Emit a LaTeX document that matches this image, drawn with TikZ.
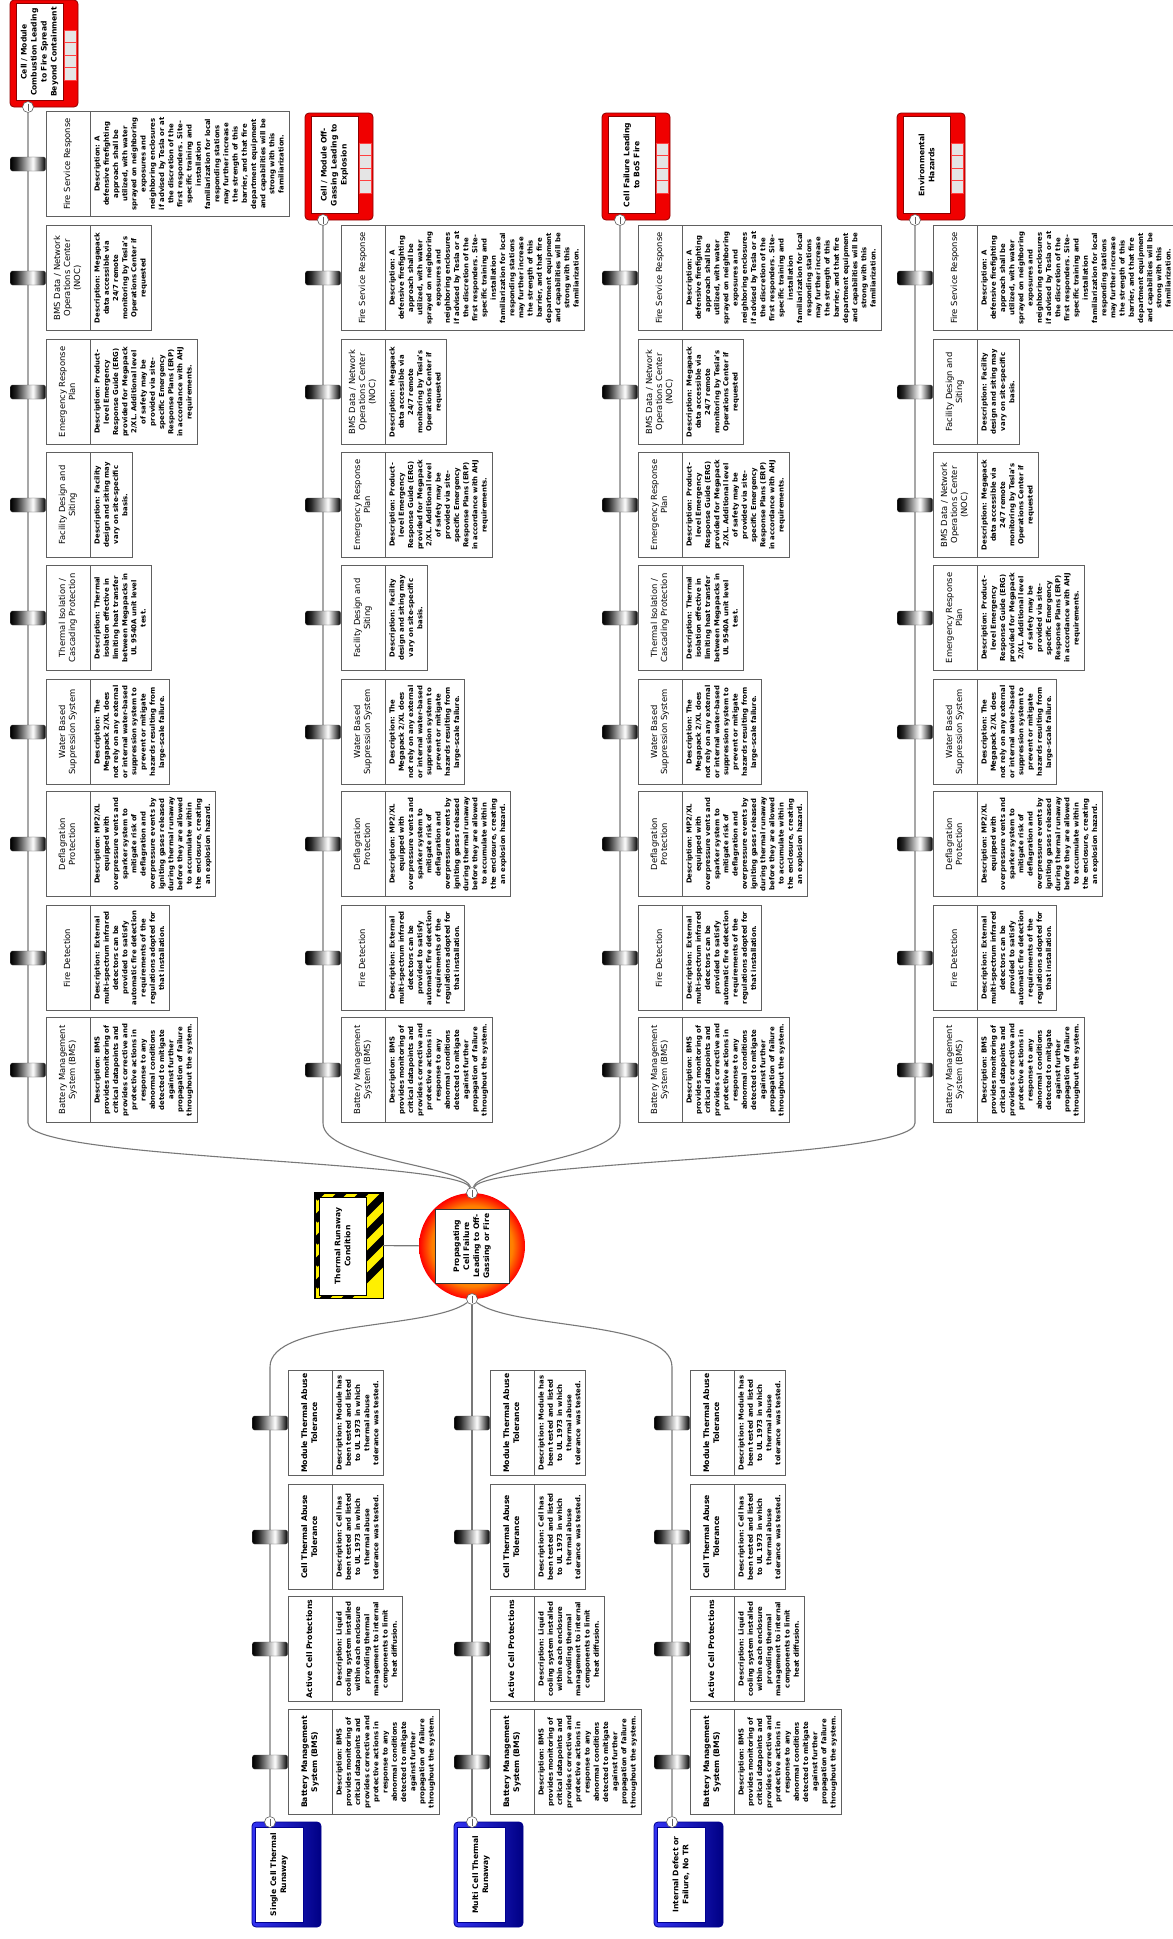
\documentclass[tikz,border=0pt]{standalone}
\usepackage{fontspec}
\setmainfont{DejaVu Sans}
\usetikzlibrary{backgrounds, calc}
\definecolor{spinegray}{RGB}{120,120,120}
\definecolor{boxgray}{RGB}{96,96,96}
\definecolor{eventred}{RGB}{240,0,0}
\definecolor{threatblue}{RGB}{0,0,240}
\definecolor{hazyellow}{RGB}{255,240,0}

\pgfdeclarehorizontalshading{barrel}{100bp}{color(0bp)=(black); color(25bp)=(black); color(33bp)=(black!85); color(57bp)=(white); color(67bp)=(black!55); color(75bp)=(black); color(100bp)=(black)}
\pgfdeclareradialshading{fireball}{\pgfpoint{0bp}{0bp}}{color(0bp)=(orange!60!yellow); color(19bp)=(orange); color(25bp)=(red); color(50bp)=(red)}

\newcommand{\titlefont}{\fontsize{8.4}{10}\selectfont}
\newcommand{\descfont}{\bfseries\fontsize{6.9}{9.2}\selectfont\baselineskip=9.2pt\relax}
\newcommand{\eventfont}{\fontsize{7.6}{10}\selectfont\bfseries}
\newcommand{\btitle}[1]{\parbox[c][39pt][c]{103pt}{\centering\titlefont\begin{tabular}{@{}c@{}}#1\end{tabular}}}
\newcommand{\bdesc}[1]{\parbox{103pt}{\centering\descfont\setbox\strutbox\hbox{\vrule height 6.4pt depth 2.8pt width 0pt}\begin{tabular}{@{}c@{}}#1\end{tabular}}}

% barrier titles
\newcommand{\tFire}{Fire Service Response}
\newcommand{\tNOC}{BMS Data / Network\\Operations Center\\(NOC)}
\newcommand{\tERP}{Emergency Response\\Plan}
\newcommand{\tSite}{Facility Design and\\Siting}
\newcommand{\tIso}{Thermal Isolation /\\Cascading Protection}
\newcommand{\tWater}{Water Based\\Suppression System}
\newcommand{\tDefl}{Deflagration\\Protection}
\newcommand{\tDetect}{Fire Detection}
\newcommand{\tBMS}{Battery Management\\System (BMS)}
\newcommand{\tModule}{Module Thermal Abuse\\Tolerance}
\newcommand{\tCell}{Cell Thermal Abuse\\Tolerance}
\newcommand{\tActive}{Active Cell Protections}

% barrier descriptions
\newcommand{\dFire}{Description: A\\defensive firefighting\\approach shall be\\utilized, with water\\sprayed on neighboring\\exposures and\\neighboring enclosures\\if advised by Tesla or at\\the discretion of the\\first responders. Site-\\specific training and\\installation\\familiarization for local\\responding stations\\may further increase\\the strength of this\\barrier, and that fire\\department equipment\\and capabilities will be\\strong with this\\familiarization.}
\newcommand{\dNOC}{Description: Megapack\\data accessible via\\24/7 remote\\monitoring by Tesla's\\Operations Center if\\requested}
\newcommand{\dERP}{Description: Product-\\level Emergency\\Response Guide (ERG)\\provided for Megapack\\2/XL. Additional level\\of safety may be\\provided via site-\\specific Emergency\\Response Plans (ERP)\\in accordance with AHJ\\requirements.}
\newcommand{\dSite}{Description: Facility\\design and siting may\\vary on site-specific\\basis.}
\newcommand{\dIso}{Description: Thermal\\isolation effective in\\limiting heat transfer\\between Megapacks in\\UL 9540A unit level\\test.}
\newcommand{\dWater}{Description: The\\Megapack 2/XL does\\not rely on any external\\or internal water-based\\suppression system to\\prevent or mitigate\\hazards resulting from\\large-scale failure.}
\newcommand{\dDefl}{Description: MP2/XL\\equipped with\\overpressure vents and\\sparker system to\\mitigate risk of\\deflagration and\\overpressure events by\\igniting gases released\\during thermal runaway\\before they are allowed\\to accumulate within\\the enclosure, creating\\an explosion hazard.}
\newcommand{\dDetect}{Description: External\\multi-spectrum infrared\\detectors can be\\provided to satisfy\\automatic fire detection\\requirements of the\\regulations adopted for\\that installation.}
\newcommand{\dBMS}{Description: BMS\\provides monitoring of\\critical datapoints and\\provides corrective and\\protective actions in\\response to any\\abnormal conditions\\detected to mitigate\\against further\\propagation of failure\\throughout the system.}
\newcommand{\dModule}{Description: Module has\\been tested and listed\\to UL 1973 in which\\thermal abuse\\tolerance was tested.}
\newcommand{\dCell}{Description: Cell has\\been tested and listed\\to UL 1973 in which\\thermal abuse\\tolerance was tested.}
\newcommand{\dActive}{Description: Liquid\\cooling system installed\\within each enclosure\\providing thermal\\management to internal\\components to limit\\heat diffusion.}

% ring on the spine, title box, description box
\newcommand{\addbarrier}[4]{%
  \node[ringicon] (#1ring) at (#2) {};
  \node[bartitle] (#1) at (#1ring.east) {\btitle{#3}};
  \node[bardesc] (#1desc) at (#1.south) {\bdesc{#4}};}

\begin{document}
\begin{tikzpicture}[
    x=1pt, y=-1pt,
    spine/.style={draw=spinegray, line width=1.1pt},
    ringicon/.style={draw=black!70, rounded corners=2pt, shading=barrel, minimum width=35pt, minimum height=14pt, inner sep=0pt},
    bartitle/.style={draw=boxgray, fill=white, line width=0.7pt, rotate=90, anchor=north, minimum width=105pt, minimum height=44pt, inner sep=0pt},
    bardesc/.style={draw=boxgray, fill=white, line width=0.7pt, rotate=90, anchor=north, minimum width=105pt, inner xsep=1pt, inner ysep=2.5pt},
    gate/.style={circle, draw=boxgray, fill=white, minimum size=11pt, inner sep=0pt, line width=0.6pt, path picture={\draw[boxgray, line width=0.6pt] ([yshift=-2pt]path picture bounding box.north) -- ([yshift=2pt]path picture bounding box.south);}},
    conseq/.style={draw=red!55!black, fill=eventred, rounded corners=4pt, line width=0.8pt, minimum width=68pt, minimum height=107pt, inner sep=0pt},
    threat/.style={draw=threatblue!60!black, left color=threatblue!80, right color=threatblue!55!black, rounded corners=4pt, line width=0.8pt, minimum width=69pt, minimum height=105pt, inner sep=0pt},
    eventtext/.style={fill=white, rotate=90, minimum width=97pt, minimum height=47pt, inner sep=1pt, align=center, font=\eventfont},
    cellbox/.style={draw=red!75, fill=gray!20, line width=0.5pt}
]
\path[use as bounding box] (0,0) rectangle (1173,1939);

% Consequences
\node[conseq] (cons1) at (44,53.5) {};
\node[eventtext, draw=red!55!black] (cons1txt) at (39.5,52) {Cell / Module\\Combustion Leading\\to Fire Spread\\Beyond Containment};
\node[gate] (cons1in) at (28,107) {};
\node[conseq] (cons2) at (339,166.5) {};
\node[eventtext, draw=red!55!black] (cons2txt) at (334.5,165) {Cell / Module Off-\\Gassing Leading to\\Explosion};
\node[gate] (cons2in) at (323,220) {};
\node[conseq] (cons3) at (636,166.5) {};
\node[eventtext, draw=red!55!black] (cons3txt) at (631.5,165) {Cell Failure Leading\\to BoS Fire};
\node[gate] (cons3in) at (620,220) {};
\node[conseq] (cons4) at (931,166.5) {};
\node[eventtext, draw=red!55!black] (cons4txt) at (926.5,165) {Environmental\\Hazards};
\node[gate] (cons4in) at (915,220) {};
\foreach \cx/\cy in {28/0, 323/113, 620/113, 915/113}
  \foreach \k in {0,...,3}
    \draw[cellbox] (\cx+36,\cy+30+\k*12.5) rectangle +(12,12.5);

% Barriers: fire spread
\addbarrier{c1fire}{28,164}{\tFire}{\dFire}
\addbarrier{c1noc}{28,278}{\tNOC}{\dNOC}
\addbarrier{c1erp}{28,392}{\tERP}{\dERP}
\addbarrier{c1site}{28,505}{\tSite}{\dSite}
\addbarrier{c1iso}{28,618}{\tIso}{\dIso}
\addbarrier{c1water}{28,732}{\tWater}{\dWater}
\addbarrier{c1defl}{28,844}{\tDefl}{\dDefl}
\addbarrier{c1detect}{28,958}{\tDetect}{\dDetect}
\addbarrier{c1bms}{28,1070}{\tBMS}{\dBMS}

% Barriers: explosion
\addbarrier{c2fire}{323,278}{\tFire}{\dFire}
\addbarrier{c2noc}{323,392}{\tNOC}{\dNOC}
\addbarrier{c2erp}{323,505}{\tERP}{\dERP}
\addbarrier{c2site}{323,618}{\tSite}{\dSite}
\addbarrier{c2water}{323,732}{\tWater}{\dWater}
\addbarrier{c2defl}{323,844}{\tDefl}{\dDefl}
\addbarrier{c2detect}{323,958}{\tDetect}{\dDetect}
\addbarrier{c2bms}{323,1070}{\tBMS}{\dBMS}

% Barriers: BoS fire
\addbarrier{c3fire}{620,278}{\tFire}{\dFire}
\addbarrier{c3noc}{620,392}{\tNOC}{\dNOC}
\addbarrier{c3erp}{620,505}{\tERP}{\dERP}
\addbarrier{c3iso}{620,618}{\tIso}{\dIso}
\addbarrier{c3water}{620,732}{\tWater}{\dWater}
\addbarrier{c3defl}{620,844}{\tDefl}{\dDefl}
\addbarrier{c3detect}{620,958}{\tDetect}{\dDetect}
\addbarrier{c3bms}{620,1070}{\tBMS}{\dBMS}

% Barriers: environmental
\addbarrier{c4fire}{915,278}{\tFire}{\dFire}
\addbarrier{c4site}{915,392}{\tSite}{\dSite}
\addbarrier{c4noc}{915,505}{\tNOC}{\dNOC}
\addbarrier{c4erp}{915,618}{\tERP}{\dERP}
\addbarrier{c4water}{915,732}{\tWater}{\dWater}
\addbarrier{c4defl}{915,844}{\tDefl}{\dDefl}
\addbarrier{c4detect}{915,958}{\tDetect}{\dDetect}
\addbarrier{c4bms}{915,1070}{\tBMS}{\dBMS}

% Top event and hazard
\node[circle, shading=fireball, minimum size=106pt, inner sep=0pt] (top) at (472,1246) {};
\node[eventtext, draw=black!80, minimum width=74pt, minimum height=74pt] (toptxt) at (top) {Propagating\\Cell Failure\\Leading to Off-\\Gassing or Fire};
\node[gate] (topin) at (472,1193) {};
\node[gate] (topout) at (472,1299) {};
\node[draw=black, fill=hazyellow, minimum width=68pt, minimum height=105pt, inner sep=0pt] (hazard) at (349,1245.5) {};
\begin{scope}
  \clip (hazard.south west) rectangle (hazard.north east);
  \foreach \s in {0,22,...,242}
    \draw[line width=7.5pt] (315,1330-\s) -- +(100,-100);
\end{scope}
\draw[line width=0.8pt] (hazard.south west) rectangle (hazard.north east);
\node[eventtext, draw=black, line width=0.6pt, minimum width=98pt, minimum height=47pt] (hazardtxt) at (342.5,1246) {Thermal Runaway\\Condition};
\draw[spine] (hazard) -- (top);

% Threats
\node[threat] (threat1) at (286.5,1874.5) {};
\node[eventtext, draw=threatblue!60!black, minimum width=95pt, minimum height=48pt] (threat1txt) at (279,1874.5) {Single Cell Thermal\\Runaway};
\node[gate] (threat1in) at (270,1822) {};
\node[threat] (threat2) at (488.5,1874.5) {};
\node[eventtext, draw=threatblue!60!black, minimum width=95pt, minimum height=48pt] (threat2txt) at (481,1874.5) {Multi Cell Thermal\\Runaway};
\node[gate] (threat2in) at (472,1822) {};
\node[threat] (threat3) at (688.5,1874.5) {};
\node[eventtext, draw=threatblue!60!black, minimum width=95pt, minimum height=48pt] (threat3txt) at (681,1874.5) {Internal Defect or\\Failure, No TR};
\node[gate] (threat3in) at (672,1822) {};

% Barriers: threats
\renewcommand{\titlefont}{\fontsize{7.7}{10}\selectfont\bfseries}
\addbarrier{t1module}{270,1423}{\tModule}{\dModule}
\addbarrier{t1cell}{270,1537}{\tCell}{\dCell}
\addbarrier{t1active}{270,1649}{\tActive}{\dActive}
\addbarrier{t1bms}{270,1762}{\tBMS}{\dBMS}
\addbarrier{t2module}{472,1423}{\tModule}{\dModule}
\addbarrier{t2cell}{472,1537}{\tCell}{\dCell}
\addbarrier{t2active}{472,1649}{\tActive}{\dActive}
\addbarrier{t2bms}{472,1762}{\tBMS}{\dBMS}
\addbarrier{t3module}{672,1423}{\tModule}{\dModule}
\addbarrier{t3cell}{672,1537}{\tCell}{\dCell}
\addbarrier{t3active}{672,1649}{\tActive}{\dActive}
\addbarrier{t3bms}{672,1762}{\tBMS}{\dBMS}

% Spines
\begin{scope}[on background layer]
  \fill[white] (0,0) rectangle (1173,1939);
  \coordinate (c1bend) at (28,1123);
  \coordinate (c2bend) at (323,1123);
  \coordinate (c3bend) at (620,1123);
  \coordinate (c4bend) at (915,1123);
  \draw[spine] (cons1in) -- (c1bend) .. controls (28,1160) and (460,1160) .. (topin);
  \draw[spine] (cons2in) -- (c2bend) .. controls (323,1160) and (465,1165) .. (topin);
  \draw[spine] (cons3in) -- (c3bend) .. controls (620,1160) and (479,1165) .. (topin);
  \draw[spine] (cons4in) -- (c4bend) .. controls (915,1160) and (484,1160) .. (topin);
  \coordinate (t1bend) at (270,1367);
  \coordinate (t3bend) at (672,1367);
  \draw[spine] (topout) .. controls (430,1330) and (270,1320) .. (t1bend) -- (threat1in);
  \draw[spine] (topout) -- (threat2in);
  \draw[spine] (topout) .. controls (514,1330) and (672,1320) .. (t3bend) -- (threat3in);
\end{scope}

\end{tikzpicture}
\end{document}
